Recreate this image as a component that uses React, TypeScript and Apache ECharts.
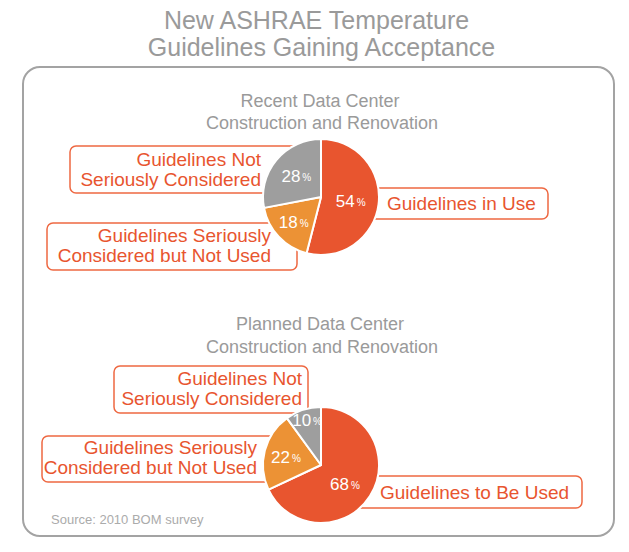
import {useEffect, useRef} from "react";
import * as echarts from "echarts";

// title and panel headings
const titleLines = ["New ASHRAE Temperature", "Guidelines Gaining Acceptance"];
const recentHeading = ["Recent Data Center", "Construction and Renovation"];
const plannedHeading = ["Planned Data Center", "Construction and Renovation"];
const sourceNote = "Source: 2010 BOM survey";

// slices, clockwise from 12 o'clock
const recentNames = ["Guidelines in Use", "Guidelines Seriously\nConsidered but Not Used", "Guidelines Not\nSeriously Considered"];
const recentValues = [54, 18, 28];
const plannedNames = ["Guidelines to Be Used", "Guidelines Seriously\nConsidered but Not Used", "Guidelines Not\nSeriously Considered"];
const plannedValues = [68, 22, 10];
const sliceColors = ["#E8552F", "#EC9235", "#9E9E9E"];

const FONT = "'Liberation Sans', Arial, sans-serif";
const RED = "#E8552F";

// callout boxes: rect, text anchor, alignment (same order as the slices)
const recentBoxes = [
    {x: 350, y: 188, w: 198, h: 31, tx: 387, ty: 203, align: "left"},
    {x: 47, y: 223, w: 250, h: 47, tx: 271, ty: 245, align: "right"},
    {x: 70, y: 146, w: 230, h: 47, tx: 261, ty: 169.5, align: "right"},
];
const plannedBoxes = [
    {x: 340, y: 476, w: 242, h: 32, tx: 380, ty: 492.5, align: "left"},
    {x: 42, y: 436, w: 243, h: 46, tx: 257, ty: 457, align: "right"},
    {x: 114, y: 366, w: 194, h: 47, tx: 302, ty: 388.5, align: "right"},
];
const recentLabelOffsets = [[-2, 0], [-4, 4], [0, 0]];
const plannedLabelOffsets = [[-3, 2], [-4, 0], [-4, -14]];

function calloutElements(names: string[], boxes: typeof recentBoxes) {
    const els: any[] = [];
    names.forEach((name, i) => {
        const b = boxes[i];
        els.push({
            type: "rect",
            z: 1,
            shape: {x: b.x, y: b.y, width: b.w, height: b.h, r: 6},
            style: {fill: "#fff", stroke: "#EE6842", lineWidth: 1.5},
        });
        els.push({
            type: "text",
            z: 2,
            x: b.tx,
            y: b.ty,
            style: {
                text: name,
                fill: RED,
                fontSize: 19,
                fontFamily: FONT,
                lineHeight: 20,
                textAlign: b.align,
                textVerticalAlign: "middle",
            },
        });
    });
    return els;
}

function headingElements(lines: string[], ys: number[], xs: number[], size: number, color: string) {
    return lines.map((line, i) => ({
        type: "text",
        z: 2,
        x: xs[i],
        y: ys[i],
        style: {
            text: line,
            fill: color,
            fontSize: size,
            fontFamily: FONT,
            textAlign: "center",
            textVerticalAlign: "middle",
        },
    }));
}

function pieSeries(names: string[], values: number[], center: [number, number], offsets: number[][]) {
    return {
        type: "pie",
        z: 10,
        silent: true,
        center,
        radius: 58,
        startAngle: 90,
        clockwise: true,
        avoidLabelOverlap: false,
        labelLine: {show: false},
        itemStyle: {borderColor: "#fff", borderWidth: 2},
        label: {
            show: true,
            position: "inside",
            formatter: "{v|{c}}{p|%}",
            rich: {
                v: {fontSize: 17, color: "#fff", fontFamily: FONT},
                p: {fontSize: 10, color: "#fff", fontFamily: FONT, padding: [2, 0, 0, 2]},
            },
        },
        data: values.map((v, i) => ({
            name: names[i],
            value: v,
            itemStyle: {color: sliceColors[i]},
            label: {offset: offsets[i]},
        })),
    };
}

export default function App() {
    const domRef = useRef<HTMLDivElement>(null);

    useEffect(() => {
        if (!domRef.current) return;
        const chart = echarts.init(domRef.current, null, {renderer: "svg"});
        chart.setOption({
            animation: false,
            backgroundColor: "#fff",
            graphic: {
                elements: [
                    {
                        type: "rect",
                        z: 0,
                        shape: {x: 23, y: 67, width: 591, height: 469, r: 17},
                        style: {fill: "none", stroke: "#A3A3A3", lineWidth: 2},
                    },
                    ...headingElements(titleLines, [20, 47], [316.5, 321.5], 25, "#9A9A9A"),
                    ...headingElements(recentHeading, [100.5, 122.5], [320, 322], 18, "#9A9A9A"),
                    ...headingElements(plannedHeading, [324, 346.5], [320, 322], 18, "#9A9A9A"),
                    ...calloutElements(recentNames, recentBoxes),
                    ...calloutElements(plannedNames, plannedBoxes),
                    {
                        type: "text",
                        z: 2,
                        x: 51,
                        y: 519.5,
                        style: {
                            text: sourceNote,
                            fill: "#ABABAB",
                            fontSize: 13,
                            fontFamily: FONT,
                            textAlign: "left",
                            textVerticalAlign: "middle",
                        },
                    },
                ],
            },
            series: [
                pieSeries(recentNames, recentValues, [321, 197], recentLabelOffsets),
                pieSeries(plannedNames, plannedValues, [321, 465], plannedLabelOffsets),
            ],
        });
        return () => chart.dispose();
    }, []);

    return <div ref={domRef} style={{position: "fixed", left: 0, top: 0, width: 629, height: 552}} />;
}
